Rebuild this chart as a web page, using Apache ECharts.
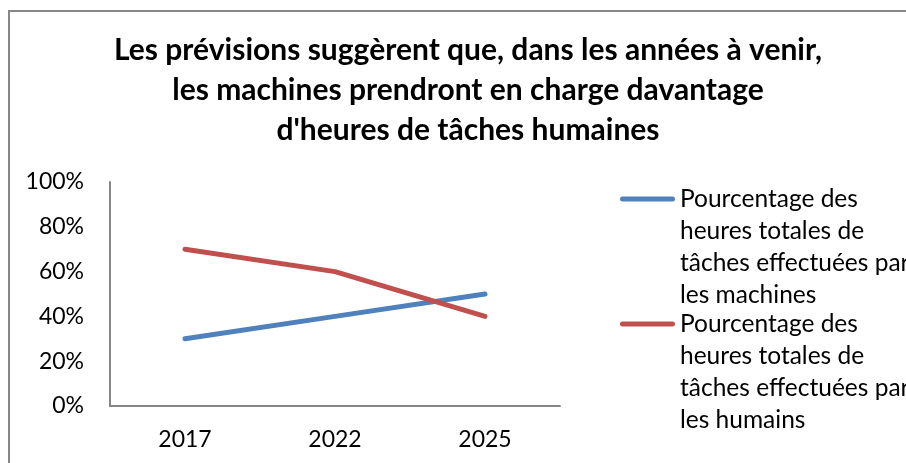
<!DOCTYPE html>
<html><head><meta charset="utf-8">
<script src="https://cdn.jsdelivr.net/npm/echarts@6/dist/echarts.min.js"></script>
<style>html,body{margin:0;padding:0;background:#fff}#c{width:906px;height:463px}</style>
</head><body><div id="c"></div>
<script>
const titleText = "Les prévisions suggèrent que, dans les années à venir,\nles machines prendront en charge davantage\nd'heures de tâches humaines";
const years = ["2017", "2022", "2025"];
const machinesName = "Pourcentage des\nheures totales de\ntâches effectuées par\nles machines";
const humainsName = "Pourcentage des\nheures totales de\ntâches effectuées par\nles humains";
const machines = [0.30, 0.40, 0.50];
const humains = [0.70, 0.60, 0.40];
const yTicks = [0, 0.2, 0.4, 0.6, 0.8, 1.0];

const FONT = "Lato";
const chart = echarts.init(document.getElementById('c'));
// legend icon: a line at the height of the first text line, inside a 55x128 box
const iconPath = 'path://M0,0 L0.01,0 L0.01,0.01 Z M2.5,13.5 L52.5,13.5 A2.5,2.5 0 0 1 52.5,18.5 L2.5,18.5 A2.5,2.5 0 0 1 2.5,13.5 Z M54.99,128 L55,128 L55,127.99 Z';
const legendText = {fontFamily: FONT, fontSize: 24.5, color: '#000', lineHeight: 32};
const legendBase = {left: 615, orient: 'vertical', itemWidth: 55, itemHeight: 128, icon: iconPath, itemStyle: {borderWidth: 0}, textStyle: legendText};
chart.setOption({
  animation: false,
  backgroundColor: '#fff',
  graphic: [{type: 'rect', shape: {x: 9, y: 11, width: 1200, height: 1200}, style: {fill: 'none', stroke: '#878787', lineWidth: 2}, silent: true}],
  title: {
    text: titleText, left: 463, top: 25, textAlign: 'center',
    textStyle: {fontFamily: FONT, fontWeight: 'bold', fontSize: 30, lineHeight: 40, color: '#000'}
  },
  grid: {left: 110, right: 346, top: 182, bottom: 57},
  xAxis: {
    type: 'category', data: years, boundaryGap: true,
    axisLine: {lineStyle: {color: '#868686', width: 2}},
    axisTick: {show: false},
    axisLabel: {fontFamily: FONT, fontSize: 23, color: '#000', margin: 22}
  },
  yAxis: {
    type: 'value', min: yTicks[0], max: yTicks[yTicks.length - 1], interval: 0.2,
    axisLine: {show: true, lineStyle: {color: '#868686', width: 2}},
    axisTick: {show: false}, splitLine: {show: false},
    axisLabel: {fontFamily: FONT, fontSize: 23, color: '#000', margin: 26, formatter: v => Math.round(v * 100) + '%'}
  },
  legend: [
    Object.assign({data: [machinesName], top: 178}, legendBase),
    Object.assign({data: [humainsName], top: 303}, legendBase)
  ],
  series: [
    {name: machinesName, type: 'line', data: machines, symbol: 'none', lineStyle: {width: 5, color: '#4F81BD', cap: 'round'}, itemStyle: {color: '#4F81BD'}},
    {name: humainsName, type: 'line', data: humains, symbol: 'none', lineStyle: {width: 5, color: '#C0504D', cap: 'round'}, itemStyle: {color: '#C0504D'}}
  ]
});
</script></body></html>
